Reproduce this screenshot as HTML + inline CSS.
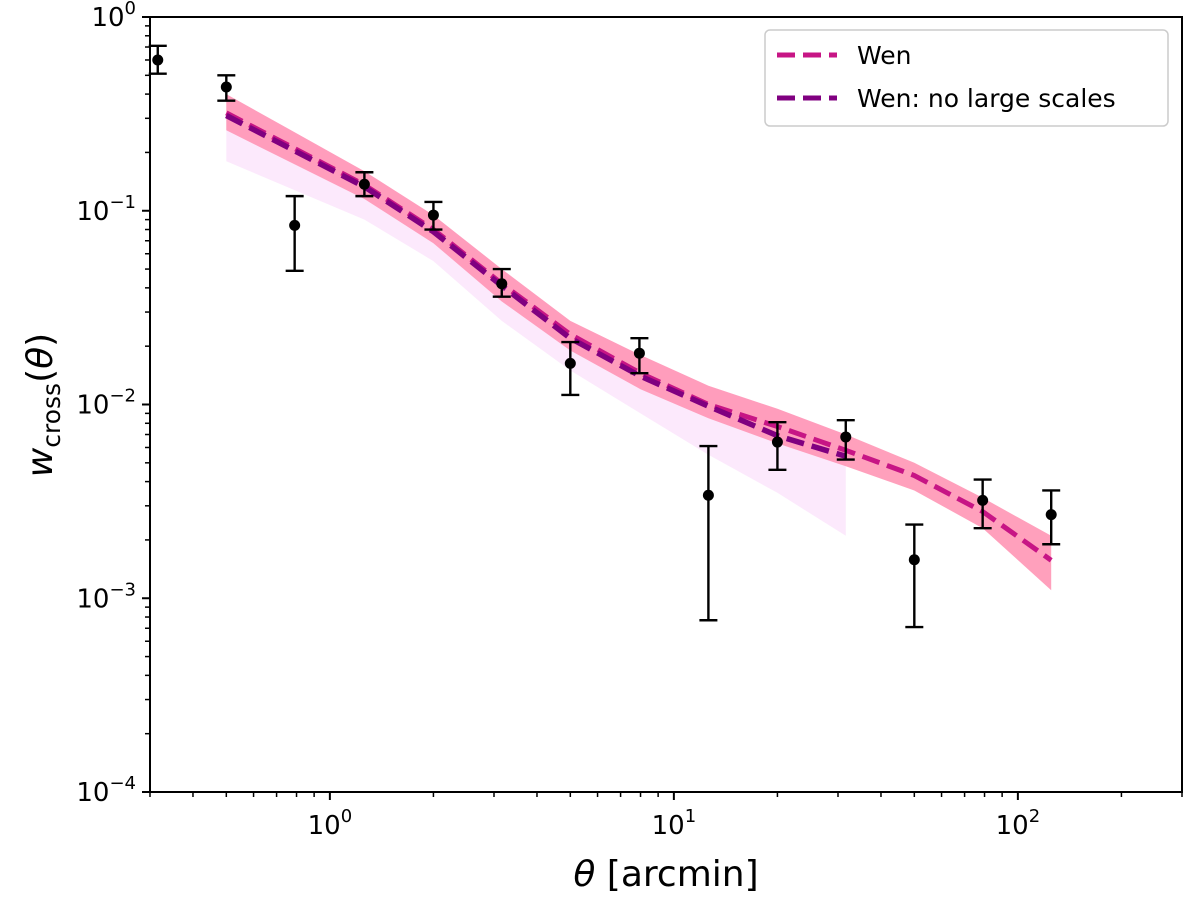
<!DOCTYPE html>
<html><head><meta charset="utf-8"><style>
body{margin:0;background:#fff}
svg text{font-family:"DejaVu Sans","Liberation Sans",sans-serif;fill:#000}
</style></head><body>
<svg id="c" width="1200" height="903" xmlns="http://www.w3.org/2000/svg"></svg>
<script>
const ptTheta=[0.316,0.5,0.79,1.26,2.0,3.16,5.0,7.94,12.6,20,31.6,50,79,125];
const ptVal=[0.60,0.435,0.084,0.137,0.095,0.042,0.0163,0.0184,0.0034,0.0064,0.0068,0.00158,0.0032,0.0027];
const ptHi=[0.71,0.50,0.119,0.158,0.111,0.050,0.021,0.022,0.0061,0.0081,0.0083,0.0024,0.0041,0.0036];
const ptLo=[0.51,0.37,0.049,0.119,0.080,0.036,0.0112,0.0145,0.00077,0.0046,0.0052,0.00071,0.0023,0.0019];
const mTheta=[0.5,1.26,2,3.16,5,8,12.6,20,31.6,50,79,125];
const wen=[0.32,0.136,0.08,0.042,0.023,0.0145,0.010,0.0077,0.0058,0.0043,0.0028,0.00157];
const wenHi=[0.40,0.16,0.095,0.05,0.027,0.018,0.0125,0.0095,0.007,0.005,0.0033,0.0021];
const wenLo=[0.26,0.115,0.068,0.034,0.019,0.012,0.0085,0.0063,0.0048,0.0036,0.0023,0.0011];
const nTheta=[0.5,1.26,2,3.16,5,8,12.6,20,31.6];
const nls=[0.31,0.133,0.078,0.041,0.022,0.014,0.0098,0.0069,0.0054];
const nlsLo=[0.18,0.09,0.055,0.027,0.015,0.009,0.0055,0.0035,0.0021];
const xTicks=[0,1,2];
const yTicks=[0,-1,-2,-3,-4];

const L=150,R=1182,T=17,B=792;
const X=v=>L+(Math.log10(v)-Math.log10(0.3))/3*(R-L);
const Y=v=>T+(0-Math.log10(v))/4*(B-T);
const svg=document.getElementById('c');const NS='http://www.w3.org/2000/svg';
function mk(tag,attrs,parent){const e=document.createElementNS(NS,tag);for(const k in attrs)e.setAttribute(k,attrs[k]);(parent||svg).appendChild(e);return e;}
function path(xs,ys){return xs.map((t,i)=>(i?'L':'M')+X(t).toFixed(1)+','+Y(ys[i]).toFixed(1)).join('');}
function band(xs,hi,lo){return path(xs,hi)+xs.slice().reverse().map((t,i)=>'L'+X(t).toFixed(1)+','+Y(lo[lo.length-1-i]).toFixed(1)).join('')+'Z';}

let e=mk('path',{d:band(nTheta,wenHi.slice(0,nTheta.length),nlsLo),fill:'#fbe4fb','fill-opacity':'0.8'});


e=mk('path',{d:band(mTheta,wenHi,wenLo),fill:'#ff8fb0','fill-opacity':'0.85'});


e=mk('path',{d:path(mTheta,wen),fill:'none',stroke:'#c71585','stroke-width':5,'stroke-dasharray':'18,8'});


e=mk('path',{d:path(nTheta,nls),fill:'none',stroke:'#800080','stroke-width':5.5,'stroke-dasharray':'18,8'});



ptTheta.forEach((t,i)=>{
 const g=mk('g',{});
 
 
 const x=X(t);
 mk('line',{x1:x,x2:x,y1:Y(ptHi[i]),y2:Y(ptLo[i]),stroke:'#000','stroke-width':2.4},g);
 mk('line',{x1:x-9,x2:x+9,y1:Y(ptHi[i]),y2:Y(ptHi[i]),stroke:'#000','stroke-width':2.4},g);
 mk('line',{x1:x-9,x2:x+9,y1:Y(ptLo[i]),y2:Y(ptLo[i]),stroke:'#000','stroke-width':2.4},g);
 mk('circle',{cx:x,cy:Y(ptVal[i]),r:5.5,fill:'#000'},g);
});

e=mk('rect',{x:L,y:T,width:R-L,height:B-T,fill:'none',stroke:'#000','stroke-width':2});


for(let d=-1;d<=2;d++)for(let m=1;m<10;m++){const v=m*Math.pow(10,d);if(v<0.3||v>300)continue;const x=X(v);
 mk('line',{x1:x,x2:x,y1:B,y2:B+(m==1?8:5),stroke:'#000','stroke-width':m==1?2:1.5});}
xTicks.forEach(p=>{const t=mk('text',{x:X(Math.pow(10,p)),y:B+42,'font-size':26,'text-anchor':'middle'});
 
 
 t.innerHTML='10<tspan dy="-12" font-size="18">'+p+'</tspan>';});
for(let d=-4;d<0;d++)for(let m=1;m<10;m++){const v=m*Math.pow(10,d);const y=Y(v);
 mk('line',{x1:L,x2:L-(m==1?8:5),y1:y,y2:y,stroke:'#000','stroke-width':m==1?2:1.5});}
mk('line',{x1:L,x2:L-8,y1:T,y2:T,stroke:'#000','stroke-width':2});
yTicks.forEach(p=>{const t=mk('text',{x:136,y:Y(Math.pow(10,p))+9,'font-size':26,'text-anchor':'end'});
 
 
 t.innerHTML='10<tspan dy="-12" font-size="18">'+(p<0?'\u2212'+(-p):p)+'</tspan>';});
e=mk('text',{x:666,y:886,'font-size':36,'text-anchor':'middle'});


e.innerHTML='<tspan font-style="italic">θ</tspan> [arcmin]';
e=mk('text',{x:0,y:0,'font-size':36,'text-anchor':'middle',transform:'translate(52,405) rotate(-90)'});


e.innerHTML='<tspan font-style="italic">w</tspan><tspan font-size="25" dy="8">cross</tspan><tspan dy="-8">(</tspan><tspan font-style="italic">θ</tspan>)';
const lg=mk('g',{});


mk('rect',{x:765,y:30,width:403,height:96,rx:5,fill:'#fff','fill-opacity':0.85,stroke:'#ccc','stroke-width':1.5},lg);
[['Wen','#c71585',55],['Wen: no large scales','#800080',98]].forEach(([n,c,y])=>{
 const g=mk('g',{},lg);
 
 
 mk('line',{x1:777,x2:837,y1:y,y2:y,stroke:c,'stroke-width':5,'stroke-dasharray':'18,8'},g);
 const t=mk('text',{x:857,y:y+9,'font-size':25},g);t.textContent=n;});
</script>
</body></html>
